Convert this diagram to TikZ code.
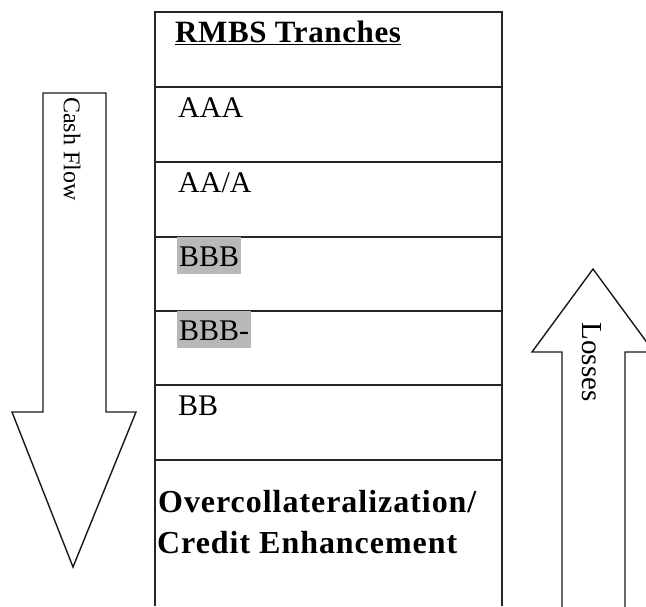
\documentclass[tikz,border=0pt]{standalone}
\usepackage{fontspec}
\setmainfont{Liberation Serif}
\tikzset{
	tline/.style={draw=black!85, line width=1.4pt},
	rating/.style={anchor=base west, inner sep=0pt, font=\fontsize{30}{36}\selectfont},
	hilite/.style={rating, fill=black!28, inner xsep=2pt, text height=29pt, text depth=8pt},
	fatarrow/.style={draw=black!90, line width=1.4pt, fill=white, line join=miter}
}
\begin{document}
\begin{tikzpicture}[x=1pt,y=-1pt]
		\useasboundingbox (0,0) rectangle (646,606);
		\clip (0,0) rectangle (646,606);
		% tranche table
		\draw[tline] (155,606) -- (155,12) -- (502,12) -- (502,606);
		\foreach \y in {87,162,237,311,385,460}
			\draw[tline] (155,\y) -- (502,\y);
		\node[rating, font=\fontsize{31}{36}\selectfont\bfseries\addfontfeature{LetterSpace=2}] (head) at (175,42) {\underline{RMBS Tranches}};
		\node[rating] (aaa) at (178,117) {AAA};
		\node[rating] (aa) at (178,192) {AA/A};
		\node[hilite] (bbb) at (177,266) {BBB};
		\node[hilite] (bbbm) at (177,340) {BBB-};
		\node[rating] (bb) at (178,415) {BB};
		\node[rating, font=\fontsize{32}{38}\selectfont\bfseries\addfontfeature{LetterSpace=3}] (oc) at (158,512) {Overcollateralization/};
		\node[rating, font=\fontsize{32}{38}\selectfont\bfseries\addfontfeature{LetterSpace=3}] (ce) at (157,553) {Credit Enhancement};
		% cash flow arrow
		\draw[fatarrow] (43,93) -- (106,93) -- (106,412) -- (136,412) -- (73,567) -- (12,412) -- (43,412) -- cycle;
		\node[rotate=-90, font=\fontsize{24}{28}\selectfont] (cash) at (72,149) {Cash Flow};
		% losses arrow
		\draw[fatarrow] (562,610) -- (562,352) -- (532,352) -- (593,269) -- (654,352) -- (625,352) -- (625,610);
		\node[rotate=-90, font=\fontsize{29}{34}\selectfont] (loss) at (592,362) {Losses};
	\end{tikzpicture}
\end{document}
